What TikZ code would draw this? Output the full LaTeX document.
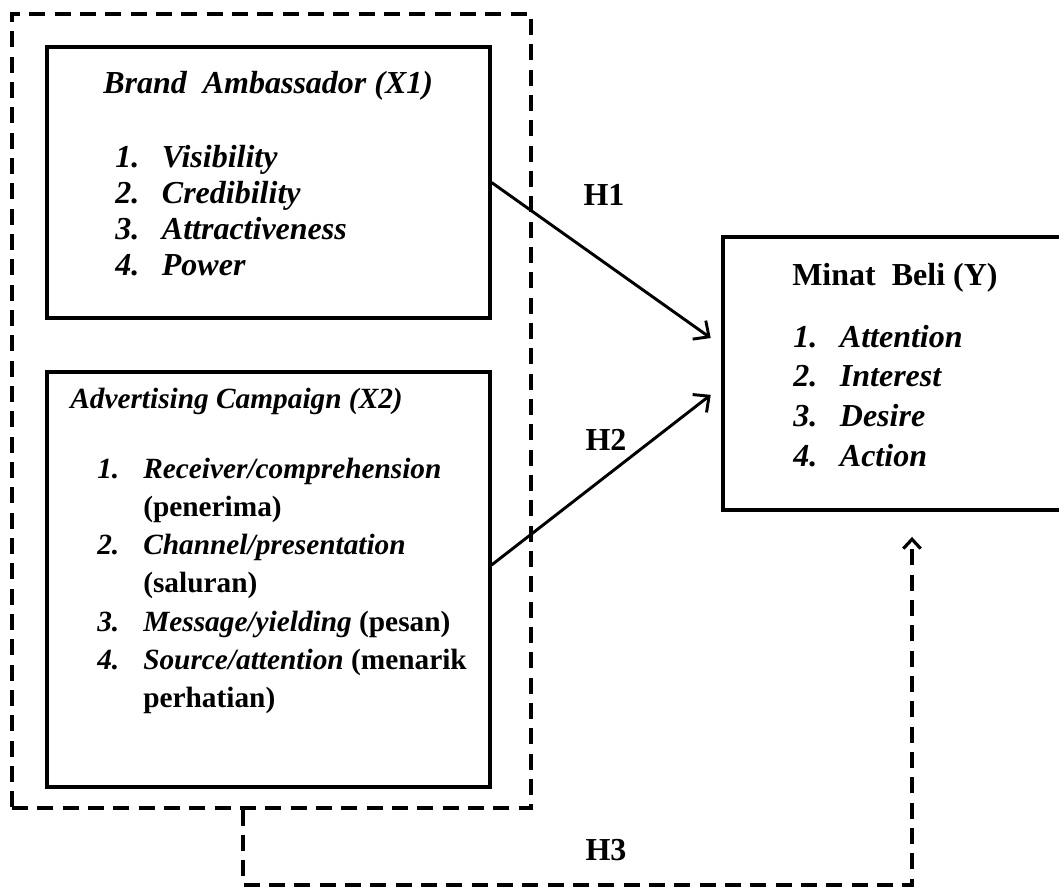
\documentclass[tikz,border=0pt]{standalone}
\usepackage{fontspec}
\setmainfont{Liberation Serif}
\usetikzlibrary{arrows.meta,fit}
\tikzset{
  box/.style={draw, line width=2.4pt, inner sep=0pt},
  grpbox/.style={draw, line width=2.4pt, dash pattern=on 12pt off 7pt, inner sep=0pt},
  dashln/.style={line width=2.4pt, dash pattern=on 12pt off 7pt},
  hyp/.style={line width=2.2pt, -{Straight Barb[length=9pt,width=17pt,line width=2.2pt]}},
  txt/.style={anchor=base west, inner sep=0pt, font=\bfseries\fontsize{24}{27}\selectfont},
  lbl/.style={inner sep=0pt, font=\bfseries\fontsize{24}{29}\selectfont},
}
\begin{document}
\begin{tikzpicture}[x=0.75pt,y=-0.75pt]
  \useasboundingbox (0,0) rectangle (1059,893);

  % boxes
  \node[grpbox, fit={(12,14) (531,808)}] (grp) {};
  \node[box, fit={(47,47) (490,318)}] (brand) {};
  \node[box, fit={(47,372) (490,787)}] (adv) {};
  \node[box, fit={(723,237) (1080,510)}] (minat) {};

  % Brand Ambassador
  \node[txt] (brandttl) at (103,93) {\itshape Brand\ \ Ambassador (X1)};
  \node[txt] (brandlst) at (115,167) {\itshape
    \begin{tabular}[t]{@{}p{35pt}@{}l@{}}
      1. & Visibility\\
      2. & Credibility\\
      3. & Attractiveness\\
      4. & Power
    \end{tabular}};

  % Advertising Campaign
  \node[txt, font=\bfseries\fontsize{22}{28.7}\selectfont] (advttl) at (70,408) {\itshape Advertising Campaign (X2)};
  \node[txt, font=\bfseries\fontsize{22}{28.7}\selectfont] (advlst) at (97,478) {%
    \begin{tabular}[t]{@{}p{34.5pt}@{}l@{}}
      \textit{1.} & \textit{Receiver/comprehension}\\
                  & (penerima)\\
      \textit{2.} & \textit{Channel/presentation}\\
                  & (saluran)\\
      \textit{3.} & \textit{Message/yielding} (pesan)\\
      \textit{4.} & \textit{Source/attention} (menarik\\
                  & perhatian)
    \end{tabular}};

  % Minat Beli
  \node[txt] (minatttl) at (792,285) {Minat\ \ Beli (Y)};
  \node[txt, font=\bfseries\fontsize{24}{29.8}\selectfont] (minatlst) at (793,347) {\itshape
    \begin{tabular}[t]{@{}p{35pt}@{}l@{}}
      1. & Attention\\
      2. & Interest\\
      3. & Desire\\
      4. & Action
    \end{tabular}};

  % hypotheses
  \draw[hyp] (brand.east) -- ([xshift=-8pt,yshift=26.6pt]minat.west);
  \draw[hyp] ([yshift=10.9pt]adv.east) -- ([xshift=-8pt,yshift=-16pt]minat.west);

  \coordinate (h3l) at (243,885);
  \coordinate (h3r) at (912,885);
  \draw[dashln, -{Straight Barb[length=7pt,width=13pt,line width=2.4pt]}, shorten >=19pt]
    (h3l |- grp.south) -- (h3l) -- (h3r) -- (h3r |- minat.south);

  \node[lbl] (h1) at (604,195) {H1};
  \node[lbl] (h2) at (606,440) {H2};
  \node[lbl] (h3) at (606,850) {H3};
\end{tikzpicture}
\end{document}
